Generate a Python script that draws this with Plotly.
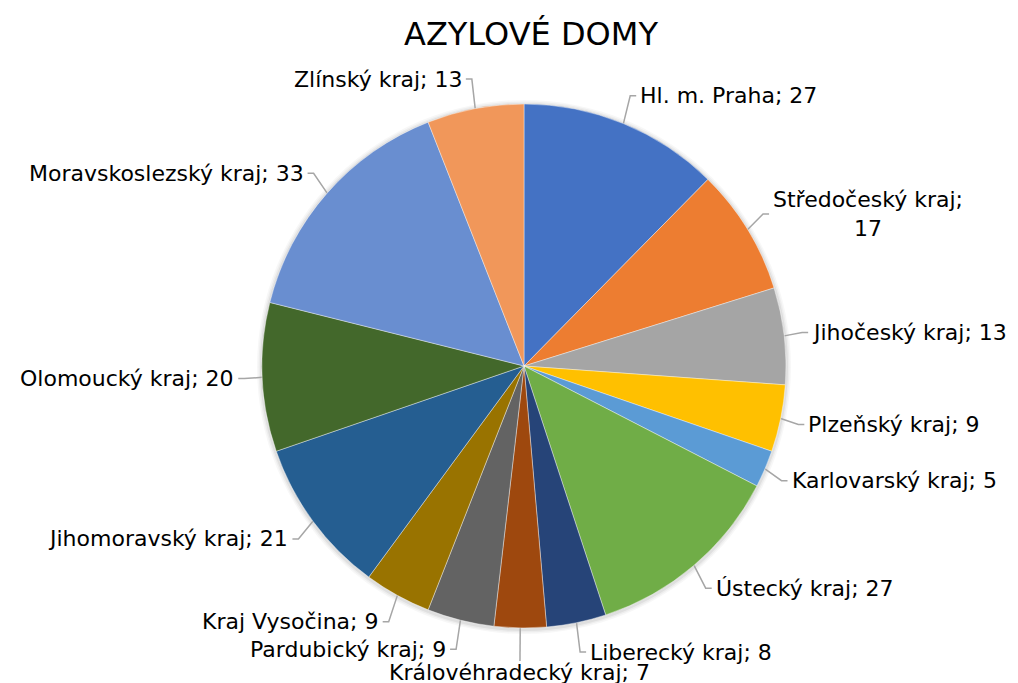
import math
import plotly.graph_objects as go

# ---- data ----
regions = [
    "Hl. m. Praha", "Středočeský kraj", "Jihočeský kraj", "Plzeňský kraj",
    "Karlovarský kraj", "Ústecký kraj", "Liberecký kraj", "Královéhradecký kraj",
    "Pardubický kraj", "Kraj Vysočina", "Jihomoravský kraj", "Olomoucký kraj",
    "Moravskoslezský kraj", "Zlínský kraj",
]
counts = [27, 17, 13, 9, 5, 27, 8, 7, 9, 9, 21, 20, 33, 13]
colors = [
    "#4472C4", "#ED7D31", "#A5A5A5", "#FFC000", "#5B9BD5", "#70AD47",
    "#264478", "#9E480E", "#636363", "#997300", "#255E91", "#43682B",
    "#698ED0", "#F1975A",
]
title = "AZYLOVÉ DOMY"
wrap_labels = {"Středočeský kraj"}

# ---- layout constants ----
OFF = 8                      # page body margin in the viewer
W, H = 1018 - 2 * OFF, 683 - OFF
CX, CY, R = 524 - OFF, 366 - OFF, 262
DX, DY = 18, 30      # label distance from pie edge (px)
FONT = "DejaVu Sans"
LEADER = "#A6A6A6"


def fx(px):
    return px / W


def fy(py):
    return 1 - py / H


fig = go.Figure(
    go.Pie(
        labels=regions,
        values=counts,
        sort=False,
        direction="clockwise",
        rotation=0,
        marker=dict(colors=colors, line=dict(color="white", width=0.4)),
        textinfo="none",
        hoverinfo="label+value",
        domain=dict(x=[fx(CX - R), fx(CX + R)], y=[fy(CY + R), fy(CY - R)]),
        showlegend=False,
    )
)

shapes = []
# soft shadow around the pie
for extra, alpha in [(5, 0.03), (3.5, 0.04), (2, 0.06)]:
    shapes.append(dict(
        type="circle", xref="paper", yref="paper",
        x0=fx(CX - R - extra), x1=fx(CX + R + extra),
        y0=fy(CY + R + extra + 1), y1=fy(CY - R - extra + 1),
        fillcolor=f"rgba(0,0,0,{alpha})", line=dict(width=0), layer="below",
    ))

total = sum(counts)
cum = 0
annotations = []
for name, v in zip(regions, counts):
    mid = (cum + v / 2) / total * 2 * math.pi
    cum += v
    s, c = math.sin(mid), math.cos(mid)
    ex, ey = CX + R * s, CY - R * c
    px, py = CX + (R + DX) * s, CY - (R + DY) * c
    if name in wrap_labels:
        txt = f"{name};<br>{v}"
    else:
        txt = f"{name}; {v}"
    if abs(s) < 0.1:
        path = f"M {fx(ex)},{fy(ey)} L {fx(px)},{fy(py + 3)}"
        annotations.append(dict(
            x=fx(px), y=fy(py), xref="paper", yref="paper", text=txt,
            showarrow=False, xanchor="center",
            yanchor="top" if c < 0 else "bottom",
            font=dict(family=FONT, size=22, color="#000000"),
        ))
    else:
        sx = 1 if s > 0 else -1
        path = (f"M {fx(ex)},{fy(ey)} L {fx(px)},{fy(py)} "
                f"L {fx(px + sx * 6)},{fy(py)}")
        annotations.append(dict(
            x=fx(px + sx * 8), y=fy(py), xref="paper", yref="paper", text=txt,
            showarrow=False, xanchor="left" if sx > 0 else "right",
            yanchor="middle", align="center",
            font=dict(family=FONT, size=22, color="#000000"),
        ))
    shapes.append(dict(type="path", xref="paper", yref="paper", path=path,
                       line=dict(color=LEADER, width=1.5), layer="below"))

annotations.append(dict(
    x=fx(531 - OFF), y=fy(34 - OFF), xref="paper", yref="paper", text=title,
    showarrow=False, xanchor="center", yanchor="middle",
    font=dict(family=FONT, size=32, color="#000000"),
))

fig.update_layout(
    width=W, height=H,
    margin=dict(l=0, r=0, t=0, b=0),
    paper_bgcolor="white", plot_bgcolor="white",
    annotations=annotations, shapes=shapes,
)

fig.write_html("out.html")
